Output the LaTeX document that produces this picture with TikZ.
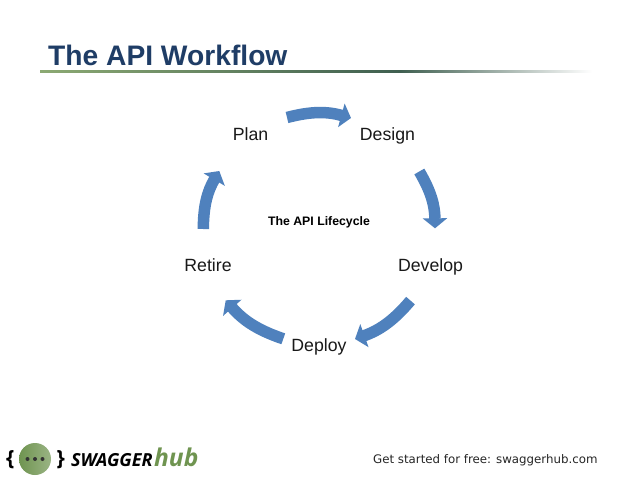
\documentclass[tikz,border=0pt]{standalone}
\usepackage{fontspec}
\setmainfont{Liberation Sans}
\newfontfamily\footfont{Open Sans}
\newfontfamily\slidefoot{DejaVu Sans}
\usepackage{xcolor}
\usetikzlibrary{arrows.meta, positioning, calc}
\definecolor{titlenavy}{HTML}{1F3D66}
\definecolor{flowblue}{HTML}{4F81BD}
\definecolor{hubgreen}{HTML}{6F9450}
\definecolor{ruledark}{HTML}{3F5F50}
\tikzset{
  stagelabel/.style={font=\fontsize{17.7}{20}\selectfont, text=black!90, inner sep=0pt, anchor=base},
  flowarrow/.style={line width=11.5pt, flowblue, -{Triangle[width=24pt,length=10pt]}, bend left=15},
  logotext/.style={inner sep=0pt, anchor=base west}
}

\begin{document}
\begin{tikzpicture}[x=1pt,y=-1pt]
    \useasboundingbox (0,0) rectangle (638,479);
    \fill[white] (0,0) rectangle (638,479);
    % title and rule
    \node[inner sep=0pt, anchor=base west, font=\fontsize{28.2}{32}\selectfont\bfseries, text=titlenavy] (title) at (48,65.5) {The API Workflow};
    \shade[left color=hubgreen!80, right color=ruledark] (40,70) rectangle (400,72.5);
    \shade[left color=ruledark, right color=white] (400,70.2) rectangle (592,72.2);
    % stages
    \node[stagelabel] (plan) at (250.5,140) {Plan};
    \node[stagelabel] (design) at (387.5,140) {Design};
    \node[stagelabel] (develop) at (430.5,271) {Develop};
    \node[stagelabel] (deploy) at (319,351) {Deploy};
    \node[stagelabel] (retire) at (208,271) {Retire};
    \node[inner sep=0pt, anchor=base, font=\fontsize{12.3}{14}\selectfont\bfseries] (lifecycle) at (319,225) {The API Lifecycle};
    % arrow ends
    \coordinate (plantail) at (287,117.5);
    \coordinate (planhead) at (351,118);
    \coordinate (designtail) at (419.3,171.5);
    \coordinate (designhead) at (435,228.3);
    \coordinate (developtail) at (410.5,300.6);
    \coordinate (develophead) at (355,339);
    \coordinate (deploytail) at (283.3,338.8);
    \coordinate (deployhead) at (225.7,300.3);
    \coordinate (retiretail) at (203.3,229);
    \coordinate (retirehead) at (219.3,171);
    \foreach \from/\to in {plantail/planhead, designtail/designhead, developtail/develophead, deploytail/deployhead, retiretail/retirehead} {
      \draw[flowarrow] (\from) to (\to);
    }
    % logo
    \node[circle, minimum size=32pt, inner sep=0pt, left color=hubgreen, right color=hubgreen!70!white] (badge) at (35,459) {};
    \foreach \x in {-7.5,0,7.5} {
      \fill[black!80] ($(badge)+(\x,0)$) circle (2pt);
    }
    \node[logotext, font=\footfont\fontsize{21}{24}\selectfont\bfseries] (openbrace) at (6,465) {\{};
    \node[logotext, font=\footfont\fontsize{21}{24}\selectfont\bfseries] (closebrace) at (56.5,465) {\}};
    \node[logotext, font=\footfont\fontsize{18}{20}\selectfont\bfseries\itshape] (swagger) at (71,466) {SWAGGER};
    \node[logotext, font=\footfont\fontsize{24.5}{26}\selectfont\bfseries\itshape, text=hubgreen] (hub) at (154,466) {hub};
    \node[logotext, font=\slidefoot\fontsize{11.8}{15}\selectfont, text=black!85] (getstarted) at (373,463.5) {Get started for free: swaggerhub.com};
  \end{tikzpicture}
\end{document}
